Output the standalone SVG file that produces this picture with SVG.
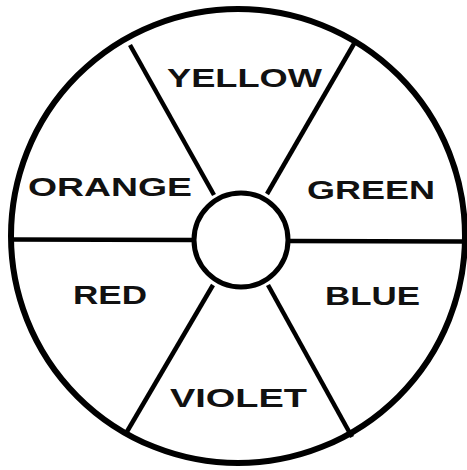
<svg xmlns="http://www.w3.org/2000/svg" width="467" height="470" viewBox="0 0 467 470">
<style>
.ring{fill:none;stroke:#000;stroke-width:6}
.hub{fill:#fff;stroke:#000;stroke-width:5}
.spoke{stroke:#000;stroke-width:4.5;stroke-linecap:butt}
.lbl{font-family:"Liberation Sans",Arial,sans-serif;font-weight:bold;font-size:25px;fill:#111}
</style>
<rect width="467" height="470" fill="#fff"/>
<g id="outer"><ellipse class="ring" cx="238" cy="236" rx="227" ry="227"/></g>
<g id="connectors">
<line class="spoke" x1="130" y1="45" x2="214" y2="195"/>
<line class="spoke" x1="355" y1="42" x2="267" y2="194"/>
<line class="spoke" x1="125" y1="435" x2="213" y2="285"/>
<line class="spoke" x1="352" y1="437" x2="268" y2="285"/>
<line class="spoke" x1="11" y1="239.5" x2="194" y2="240"/>
<line class="spoke" x1="288" y1="241" x2="465" y2="241.5"/>
</g>
<g id="hub"><circle class="hub" cx="241" cy="240" r="47"/></g>
<g id="yellow"><text class="lbl" x="167" y="87" textLength="155" lengthAdjust="spacingAndGlyphs">YELLOW</text></g>
<g id="orange"><text class="lbl" x="28" y="196" textLength="164" lengthAdjust="spacingAndGlyphs">ORANGE</text></g>
<g id="green"><text class="lbl" x="307" y="199" textLength="128" lengthAdjust="spacingAndGlyphs">GREEN</text></g>
<g id="red"><text class="lbl" x="73" y="304" textLength="74" lengthAdjust="spacingAndGlyphs">RED</text></g>
<g id="blue"><text class="lbl" x="325" y="305" textLength="95" lengthAdjust="spacingAndGlyphs">BLUE</text></g>
<g id="violet"><text class="lbl" x="170" y="407" textLength="137" lengthAdjust="spacingAndGlyphs">VIOLET</text></g>
</svg>
